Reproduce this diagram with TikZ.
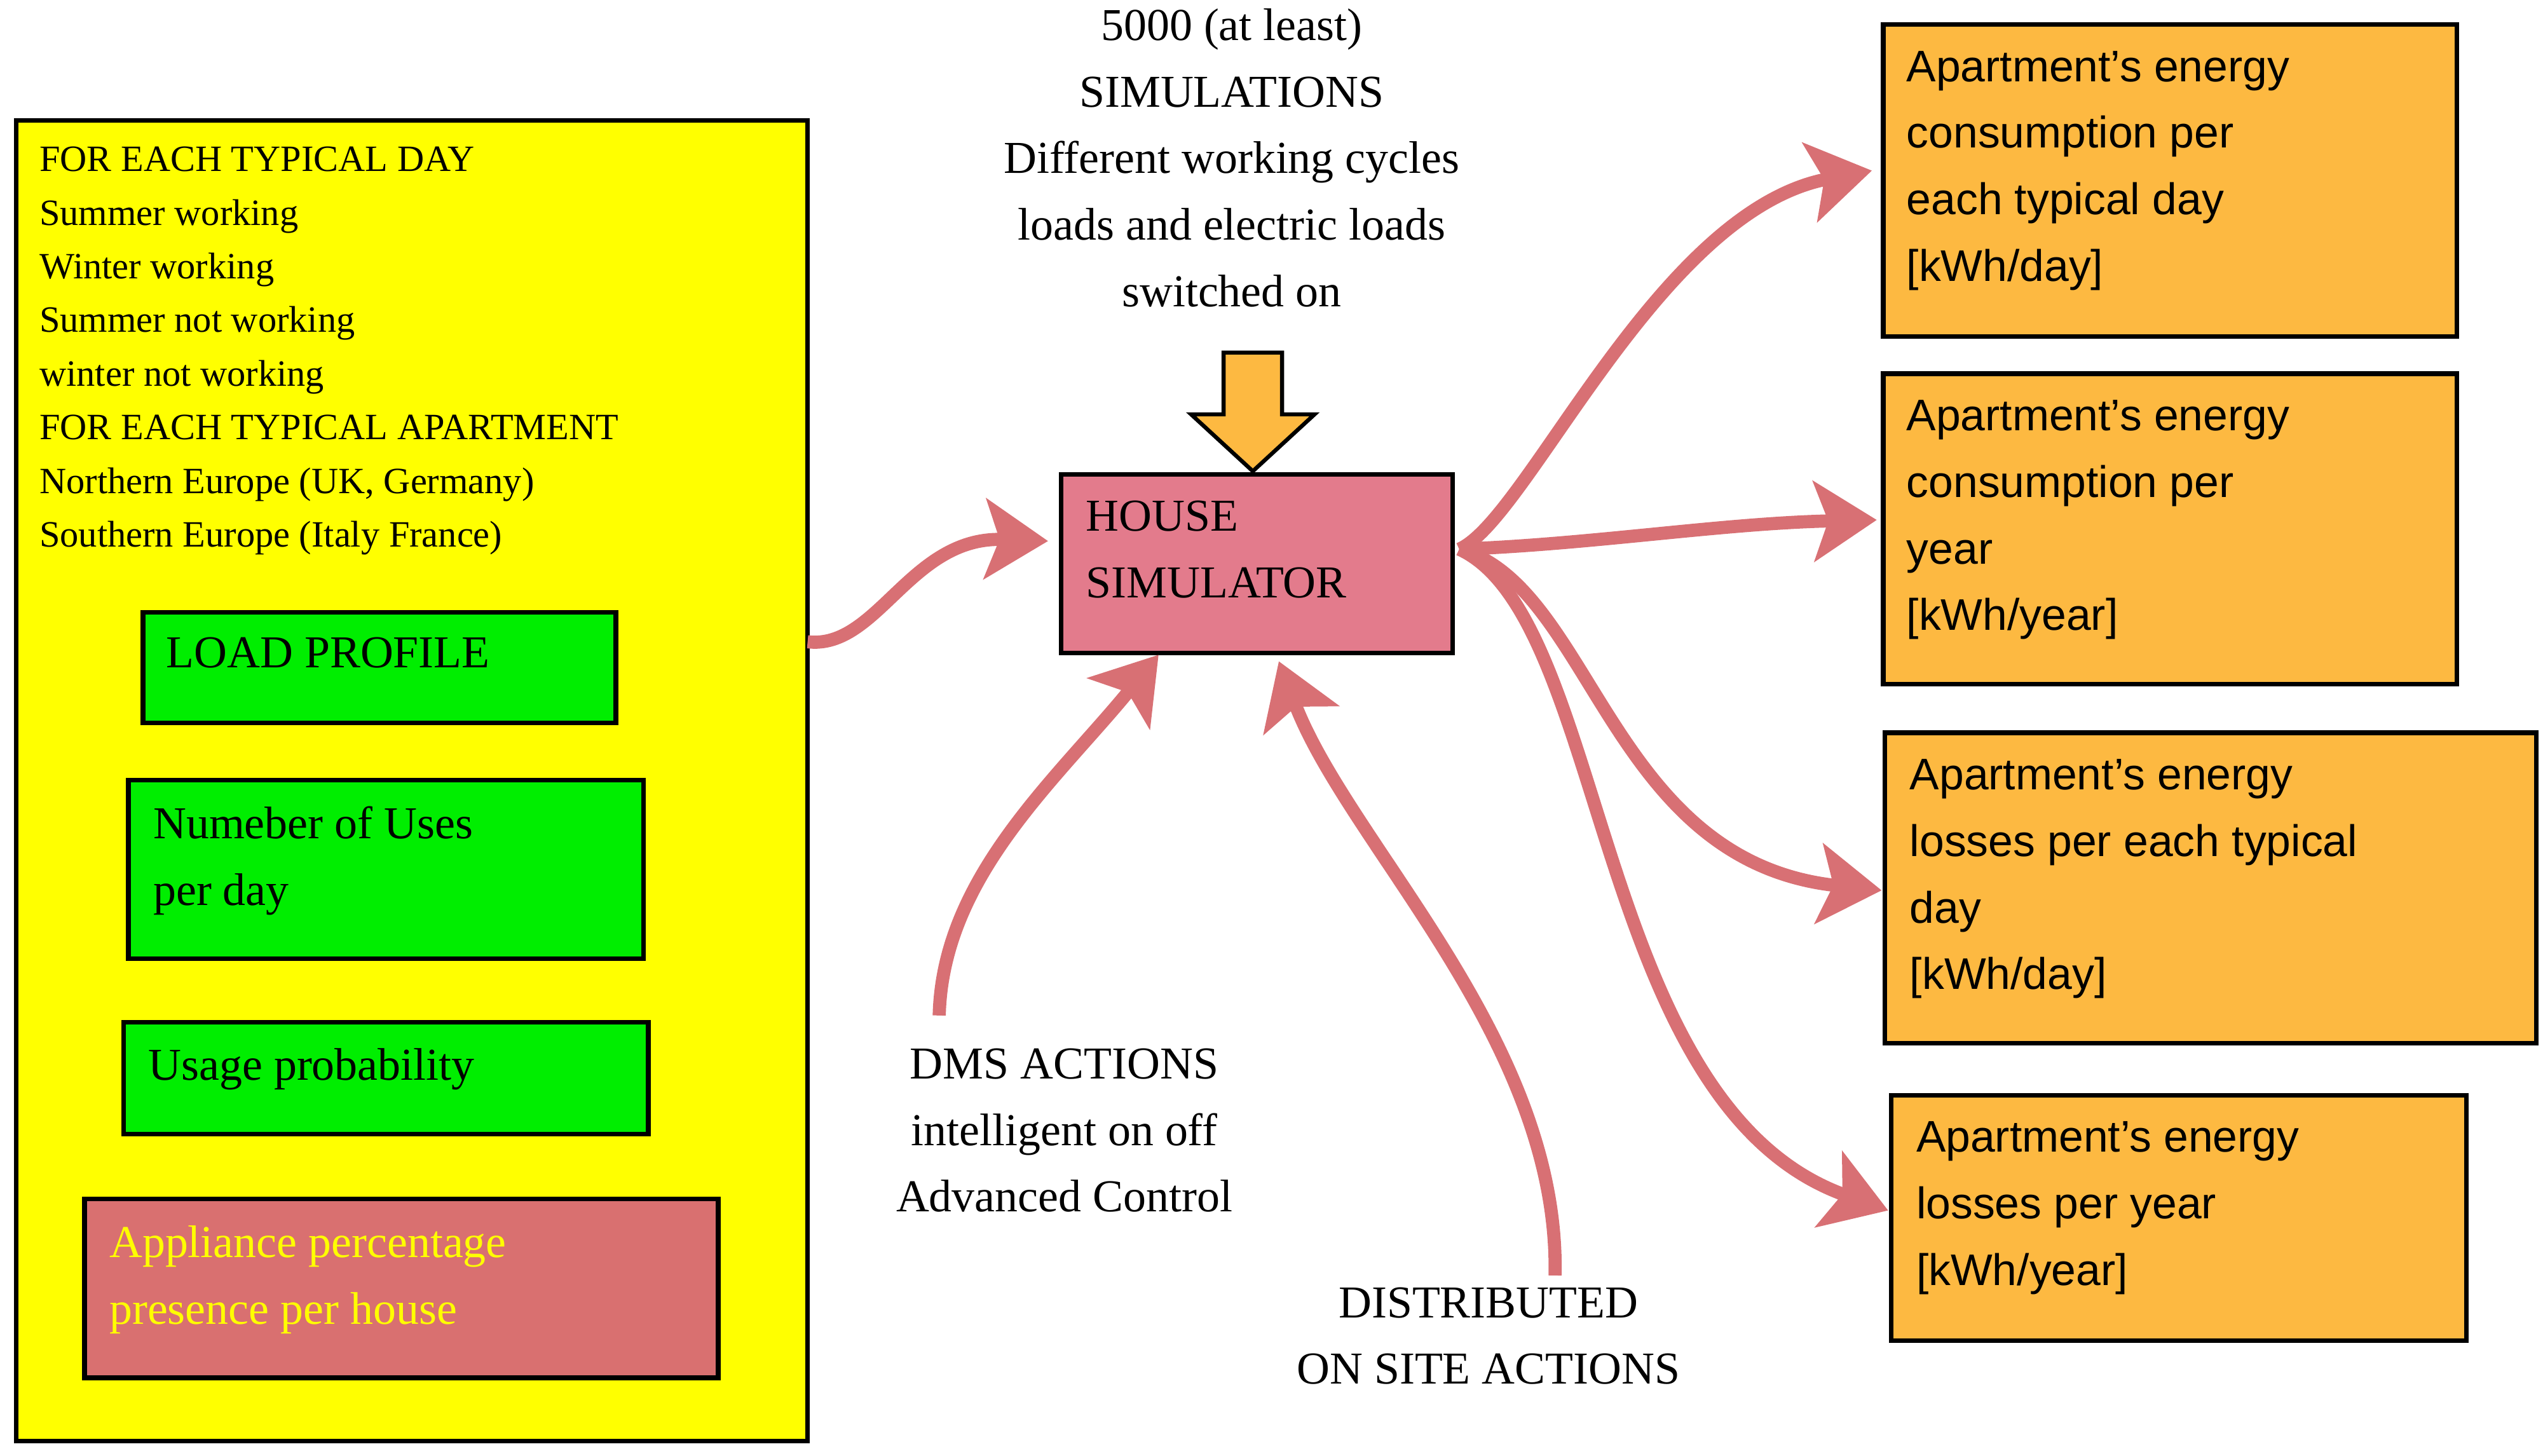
\documentclass[tikz,border=0pt]{standalone}
\usepackage{fontspec}
\setmainfont{Liberation Serif}
\newfontfamily\sansf{Liberation Sans}
\usetikzlibrary{arrows.meta,shapes.arrows}
\definecolor{ylw}{HTML}{FFFF00}
\definecolor{grn}{HTML}{00EE00}
\definecolor{appl}{HTML}{D97070}
\definecolor{hsim}{HTML}{E37B8C}
\definecolor{org}{HTML}{FDB941}
\definecolor{arr}{HTML}{D87074}
\begin{document}
\begin{tikzpicture}[x=0.02cm,y=-0.02cm,
  box/.style={draw=black,line width=1.6pt},
  big/.style={font=\fontsize{16}{23.3}\selectfont,inner sep=0,align=left},
  small/.style={font=\fontsize{13}{18.8}\selectfont,inner sep=0,align=left},
  ctr/.style={font=\fontsize{16}{23.3}\selectfont,inner sep=0,align=center},
  sans/.style={font=\sansf\fontsize{15.5}{23.3}\selectfont,inner sep=0,align=left},
  con/.style={draw=arr,line width=4.6pt,-{Stealth[length=22pt,width=28pt,inset=5pt]}}]
\useasboundingbox (0,0) rectangle (1565,896);
% left panel
\draw[box,fill=ylw] (10,74) rectangle (497,887);
\node[small,anchor=north west] (lt) at (24,90) {FOR EACH TYPICAL DAY\\Summer working\\Winter working\\Summer not working\\winter not working\\FOR EACH TYPICAL APARTMENT\\Northern Europe (UK, Germany)\\Southern Europe (Italy France)};
\draw[box,fill=grn] (88,377) rectangle (379,445);
\node[big,anchor=north west] (lp) at (102,392) {LOAD PROFILE};
\draw[box,fill=grn] (79,480) rectangle (396,590);
\node[big,anchor=north west] (nu) at (94,496) {Numeber of Uses\\per day};
\draw[box,fill=grn] (76,629) rectangle (399,698);
\node[big,anchor=north west] (up) at (91,645) {Usage probability};
\draw[box,fill=appl] (52,738) rectangle (442,848);
\node[big,anchor=north west,text=ylw] (ap) at (67,754) {Appliance percentage\\presence per house};
\coordinate (lout) at (497,395);
% house simulator
\draw[box,fill=hsim] (653,292) rectangle (894,402);
\node[big,anchor=north west] (hs) at (668,308) {HOUSE\\SIMULATOR};
\coordinate (hout) at (898,338);
% top text and arrow
\node[ctr,anchor=north] (tt) at (758,5) {5000 (at least)\\SIMULATIONS\\Different working cycles\\loads and electric loads\\switched on};
\draw[black,line width=1.4pt,fill=org] (753,217) -- (789,217) -- (789,255) -- (809,255) -- (771,290) -- (733,255) -- (753,255) -- cycle;
% right boxes
\draw[box,fill=org] (1159,15) rectangle (1512,207);
\node[sans,anchor=north west] (r1) at (1173,31) {Apartment’s energy\\consumption per\\each typical day\\{}[kWh/day]};
\draw[box,fill=org] (1159,230) rectangle (1512,421);
\node[sans,anchor=north west] (r2) at (1173,246) {Apartment’s energy\\consumption per\\year\\{}[kWh/year]};
\draw[box,fill=org] (1160,451) rectangle (1561,642);
\node[sans,anchor=north west] (r3) at (1175,467) {Apartment’s energy\\losses per each typical\\day\\{}[kWh/day]};
\draw[box,fill=org] (1164,674) rectangle (1518,825);
\node[sans,anchor=north west] (r4) at (1179,690) {Apartment’s energy\\losses per year\\{}[kWh/year]};
% bottom texts
\node[ctr,anchor=north] (dms) at (655,645) {DMS ACTIONS\\intelligent on off\\Advanced Control};
\node[ctr,anchor=north] (dist) at (916,792) {DISTRIBUTED\\ON SITE ACTIONS};
\coordinate (dmsc) at (578,625);
\coordinate (distc) at (957,785);
% connectors
\draw[con] (lout) .. controls (540,400) and (560,330) .. (645,333);
\draw[con] (dmsc) .. controls (580,540) and (650,480) .. (713,403);
\draw[con] (distc) .. controls (960,640) and (830,520) .. (787,407);
\draw[con] (hout) .. controls (940,320) and (1020,130) .. (1152,105);
\draw[con] (hout) .. controls (980,335) and (1060,322) .. (1155,320);
\draw[con] (hout) .. controls (980,360) and (990,530) .. (1158,548);
\draw[con] (hout) .. controls (990,380) and (980,680) .. (1162,745);
\end{tikzpicture}
\end{document}
